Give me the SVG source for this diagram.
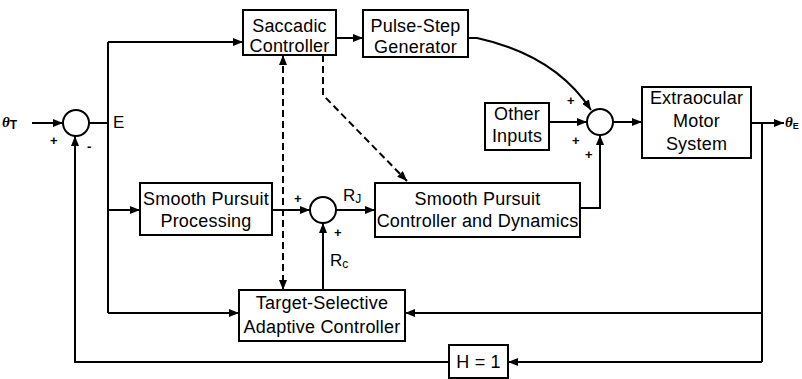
<svg xmlns="http://www.w3.org/2000/svg" width="802" height="379" viewBox="0 0 802 379">
<style>
.box{fill:#fff;stroke:#000;stroke-width:2}
.sum{fill:#fff;stroke:#000;stroke-width:2}
.t{font-family:"Liberation Sans",Arial,sans-serif;font-size:18px;letter-spacing:0.2px;fill:#000;text-anchor:middle}
.l{font-family:"Liberation Sans",Arial,sans-serif;font-size:17px;fill:#000}
.s{font-family:"Liberation Sans",Arial,sans-serif;font-size:12px;fill:#000}
.p{font-family:"Liberation Sans",Arial,sans-serif;font-size:13px;font-weight:bold;fill:#000}
.th{font-family:"Liberation Serif","Times New Roman",serif;font-size:15px;font-weight:bold;font-style:italic;fill:#000}
.c{fill:none;stroke:#000;stroke-width:2}
.d{fill:none;stroke:#000;stroke-width:2;stroke-dasharray:7,4}
</style>
<defs>
<marker id="a" viewBox="0 0 10 8" refX="10" refY="4" markerWidth="10" markerHeight="8" markerUnits="userSpaceOnUse" orient="auto-start-reverse">
<path d="M0,0 L10,4 L0,8 Z" fill="#000"/>
</marker>
</defs>
<g id="connectors">
<path class="c" d="M32,123 L63,123" marker-end="url(#a)"/>
<path class="c" d="M89,123 L108,123"/>
<path class="c" d="M108,42 L108,313"/>
<path class="c" d="M108,42 L243,42" marker-end="url(#a)"/>
<path class="c" d="M108,210 L140,210" marker-end="url(#a)"/>
<path class="c" d="M108,313 L239,313" marker-end="url(#a)"/>
<path class="c" d="M336,38 L363,38" marker-end="url(#a)"/>
<path class="c" d="M468,38 L477,38 Q555,55 591,110" marker-end="url(#a)"/>
<path class="c" d="M549,122 L587,122" marker-end="url(#a)"/>
<path class="c" d="M613,122 L642,122" marker-end="url(#a)"/>
<path class="c" d="M751,123 L784,123" marker-end="url(#a)"/>
<path class="c" d="M762,123 L762,362"/>
<path class="c" d="M762,313 L405,313" marker-end="url(#a)"/>
<path class="c" d="M762,362 L508,362" marker-end="url(#a)"/>
<path class="c" d="M449,362 L75,362 L75,136" marker-end="url(#a)"/>
<path class="c" d="M580,208 L600,208 L600,135" marker-end="url(#a)"/>
<path class="c" d="M272,210 L310,210" marker-end="url(#a)"/>
<path class="c" d="M336,210 L375,210" marker-end="url(#a)"/>
<path class="c" d="M323,290 L323,223" marker-end="url(#a)"/>
<path class="d" d="M283,55 L283,290" marker-start="url(#a)" marker-end="url(#a)"/>
<path class="d" d="M323,55 L323,95 L407,181" marker-end="url(#a)"/>
</g>
<g id="sum1"><circle class="sum" cx="76" cy="123" r="13"/></g>
<g id="sum2"><circle class="sum" cx="600" cy="122" r="13"/></g>
<g id="sum3"><circle class="sum" cx="323" cy="210" r="13"/></g>
<g id="saccadic">
<rect class="box" x="243" y="10" width="93" height="45"/>
<text class="t" x="289.5" y="32">Saccadic</text>
<text class="t" x="289.5" y="52">Controller</text>
</g>
<g id="pulsestep">
<rect class="box" x="363" y="10" width="105" height="47"/>
<text class="t" x="415.5" y="32">Pulse-Step</text>
<text class="t" x="415.5" y="53">Generator</text>
</g>
<g id="other">
<rect class="box" x="485" y="103" width="64" height="47"/>
<text class="t" x="517" y="120">Other</text>
<text class="t" x="517" y="142">Inputs</text>
</g>
<g id="extraocular">
<rect class="box" x="642" y="87" width="109" height="71"/>
<text class="t" x="696.5" y="104">Extraocular</text>
<text class="t" x="696.5" y="127">Motor</text>
<text class="t" x="696.5" y="150">System</text>
</g>
<g id="spp">
<rect class="box" x="140" y="183" width="132" height="52"/>
<text class="t" x="206" y="205">Smooth Pursuit</text>
<text class="t" x="206" y="227">Processing</text>
</g>
<g id="spcd">
<rect class="box" x="375" y="183" width="205" height="54"/>
<text class="t" x="477.5" y="205">Smooth Pursuit</text>
<text class="t" x="477.5" y="227">Controller and Dynamics</text>
</g>
<g id="tsac">
<rect class="box" x="239" y="290" width="166" height="51"/>
<text class="t" x="322" y="309">Target-Selective</text>
<text class="t" x="322" y="333">Adaptive Controller</text>
</g>
<g id="h1">
<rect class="box" x="449" y="345" width="59" height="33"/>
<text class="t" x="478.5" y="368">H = 1</text>
</g>
<g id="labels">
<text class="th" x="2" y="127">θ<tspan class="s" font-weight="bold" font-style="normal" dy="2">T</tspan></text>
<text class="th" x="785" y="127">θ<tspan font-family="Liberation Sans,Arial,sans-serif" font-size="9px" font-weight="bold" font-style="normal" dy="2">E</tspan></text>
<text class="l" x="113" y="128">E</text>
<text class="p" x="50" y="145">+</text>
<text class="p" x="87" y="151">-</text>
<text class="p" x="294" y="203">+</text>
<text class="p" x="334" y="237">+</text>
<text class="p" x="567" y="105">+</text>
<text class="p" x="572" y="145">+</text>
<text class="p" x="585" y="159">+</text>
<text class="l" x="343" y="201">R<tspan class="s" dy="2">J</tspan></text>
<text class="l" x="330" y="266">R<tspan class="s" dy="2">c</tspan></text>
</g>
</svg>
